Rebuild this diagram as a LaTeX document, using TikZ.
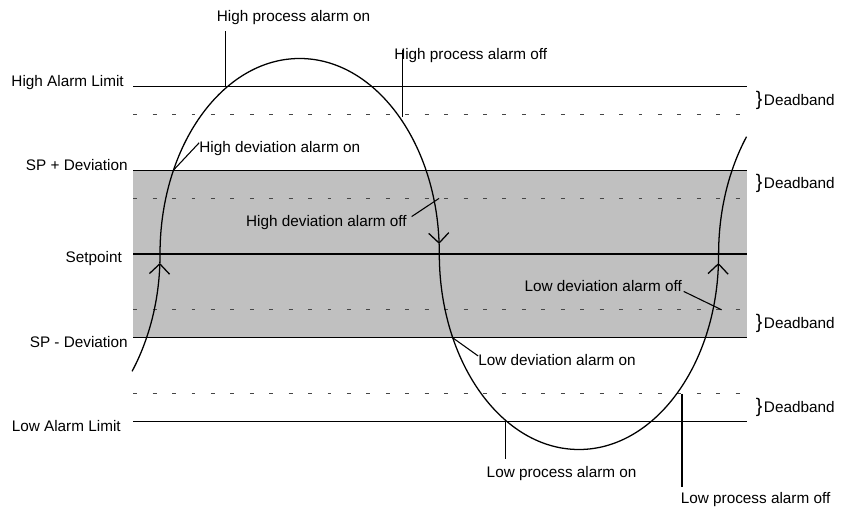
\documentclass[tikz,border=0pt]{standalone}
\usepackage{fontspec}
\setmainfont{Liberation Sans}
\usetikzlibrary{arrows.meta}
\definecolor{bandgray}{RGB}{192,192,192}
\definecolor{dashgray}{RGB}{70,70,70}

\begin{document}
\begin{tikzpicture}[
  limit/.style={line width=1.3pt},
  spline/.style={line width=3pt},
  dband/.style={dash pattern=on 4pt off 15.8pt, line width=1.1pt, draw=dashgray},
  pvcurve/.style={line width=1.3pt, x radius=5, y radius=7},
  flowtip/.style={-{Straight Barb[length=3.6mm, width=7.2mm]}},
  leader/.style={line width=1.1pt},
  lbl/.style={font=\fontsize{15.6}{18}\selectfont, inner sep=0pt}
]
\useasboundingbox (-5.729,-9.202) rectangle (24.454,9.094);

% band and limit lines
\fill[bandgray] (-0.96,-3) rectangle (21,3);
\foreach \y in {5,2,-2,-5}
  \draw[dband] (-0.96,\y) -- (21,\y);
\foreach \y in {6,3,-3,-6}
  \draw[limit] (-0.96,\y) -- (21,\y);
\draw[spline] (-0.96,0) -- (21,0);

\node[lbl, anchor=base east] (hal) at (-1.29,6.0)   {High Alarm Limit};
\node[lbl, anchor=base east] (spd) at (-1.15,3.0)   {SP + Deviation};
\node[lbl, anchor=base east] (sp)  at (-1.36,-0.31) {Setpoint};
\node[lbl, anchor=base east] (smd) at (-1.15,-3.34) {SP - Deviation};
\node[lbl, anchor=base east] (lal) at (-1.40,-6.34) {Low Alarm Limit};

\foreach \y/\n in {5.5/1,2.5/2,-2.5/3,-5.5/4}
  \node[lbl, anchor=base west] (db\n) at (21.33,\y-0.17)
    {{\fontsize{20}{20}\selectfont\}}\hspace{1.5pt}Deadband};

% process value
\draw[pvcurve, flowtip] (-1,-4.2) arc[start angle=-36.87, end angle=-2.62] coordinate (a1);
\draw[pvcurve, flowtip] (a1) arc[start angle=-2.62, end angle=0]
  arc[start angle=180, end angle=2.95] coordinate (a2);
\draw[pvcurve, flowtip] (a2) arc[start angle=2.95, end angle=0]
  arc[start angle=180, end angle=357.38] coordinate (a3);
\draw[pvcurve] (a3) arc[start angle=357.38, end angle=360]
  arc[start angle=180, end angle=143.13];

% alarm labels
\node[lbl, anchor=base]      (hpon)  at (4.78,8.32)   {High process alarm on};
\node[lbl, anchor=base west] (hpoff) at (8.38,6.98)   {High process alarm off};
\node[lbl, anchor=base west] (hdon)  at (1.40,3.63)   {High deviation alarm on};
\node[lbl, anchor=base east] (hdoff) at (8.84,0.98)   {High deviation alarm off};
\node[lbl, anchor=base west] (ldon)  at (11.39,-4.01) {Low deviation alarm on};
\node[lbl, anchor=base east] (ldoff) at (18.69,-1.35) {Low deviation alarm off};
\node[lbl, anchor=base]      (lpon)  at (14.38,-8.0)  {Low process alarm on};
\node[lbl, anchor=base west] (lpoff) at (18.64,-8.93) {Low process alarm off};

\coordinate (hpon-c)  at (2.33,6);     \coordinate (hpon-e)  at (2.33,7.98);
\coordinate (hpoff-c) at (8.69,4.9);   \coordinate (hpoff-e) at (8.69,7.30);
\coordinate (hdon-c)  at (0.48,3);     \coordinate (hdon-e)  at (1.40,3.98);
\coordinate (hdoff-c) at (9.99,1.99);  \coordinate (hdoff-e) at (9.01,1.34);
\coordinate (ldon-c)  at (10.48,-3);   \coordinate (ldon-e)  at (11.39,-3.65);
\coordinate (ldoff-c) at (20.11,-2.0); \coordinate (ldoff-e) at (18.75,-1.34);
\coordinate (lpon-c)  at (12.36,-6);   \coordinate (lpon-e)  at (12.36,-7.34);
\coordinate (lpoff-c) at (18.69,-5.01);\coordinate (lpoff-e) at (18.69,-8.34);

\foreach \k in {hpon,hpoff,hdon,hdoff,ldon,ldoff,lpon,lpoff}
  \draw[leader] (\k-c) -- (\k-e);
\end{tikzpicture}
\end{document}
